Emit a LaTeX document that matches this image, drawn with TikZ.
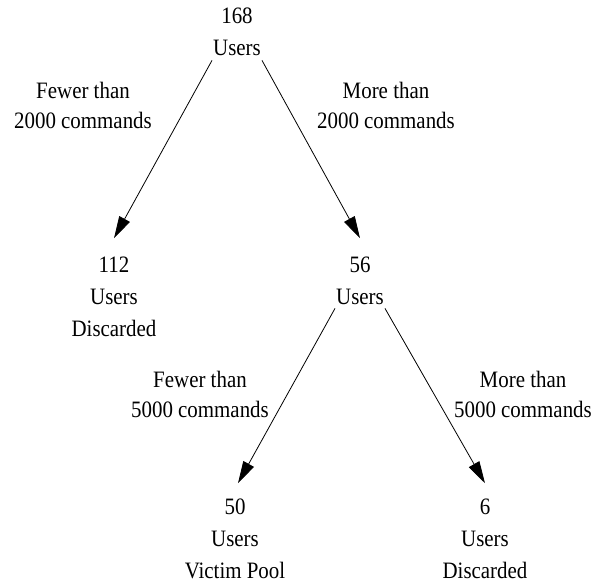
\documentclass[tikz,border=0pt]{standalone}
\usepackage{fontspec}
\setmainfont[FakeStretch=0.89]{Liberation Serif}
\usetikzlibrary{arrows.meta}
\tikzset{
  count/.style={anchor=base, align=center, inner xsep=1pt, inner ysep=4pt,
    font=\fontsize{23.5}{32}\selectfont},
  cond/.style={anchor=base, align=center, inner sep=0pt,
    font=\fontsize{23.5}{30}\selectfont},
  split/.style={line width=0.8pt, -{Triangle[length=22pt,width=12pt]}},
}
\begin{document}
\begin{tikzpicture}[x=1pt,y=-1pt]
\useasboundingbox (0,0) rectangle (602,586);
% population nodes (anchored on the baseline of their last line)
\node[count] (top) at (237,56) {168\\Users};
\node[count] (n112) at (114,336) {112\\Users\\Discarded};
\node[count] (n56) at (360,304) {56\\Users};
\node[count] (n50) at (235,578) {50\\Users\\Victim Pool};
\node[count] (n6) at (485,578) {6\\Users\\Discarded};
% split conditions
\node[cond] (c1) at (83,128) {Fewer than\\2000 commands};
\node[cond] (c2) at (386,128) {More than\\2000 commands};
\node[cond] (c3) at (200,417) {Fewer than\\5000 commands};
\node[cond] (c4) at (523,417) {More than\\5000 commands};
% splits
\draw[split] (top.south west) -- ([yshift=14pt]n112.north);
\draw[split] (top.south east) -- ([yshift=14pt]n56.north);
\draw[split] (n56.south west) -- ([yshift=11pt,xshift=3pt]n50.north);
\draw[split] (n56.south east) -- ([yshift=11pt]n6.north);
\end{tikzpicture}
\end{document}
